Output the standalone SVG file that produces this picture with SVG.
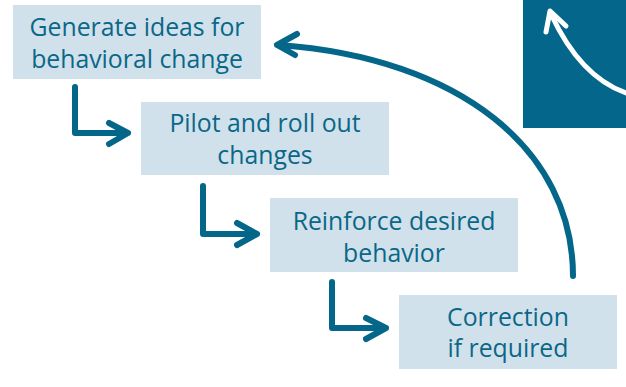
<svg xmlns="http://www.w3.org/2000/svg" width="626" height="387" viewBox="0 0 626 387">
  <style>
    .box { fill: #d1e1eb; }
    .label { font-family: "Open Sans", "Noto Sans", sans-serif; font-size: 24.8px; fill: #0a6788; text-anchor: middle; }
    .conn { fill: none; stroke: #04678a; stroke-width: 6; stroke-linecap: round; stroke-linejoin: round; }
  </style>
  <rect width="626" height="387" fill="#ffffff"/>

  <!-- corner badge -->
  <g id="badge">
    <rect x="523" y="0" width="103" height="128" fill="#03668a"/>
    <path d="M626,93 C595,82 570,55 551,14" fill="none" stroke="#ffffff" stroke-width="5" stroke-linecap="round"/>
    <path d="M546,32 L550,11 L566,26" fill="none" stroke="#ffffff" stroke-width="5" stroke-linecap="round" stroke-linejoin="round"/>
  </g>

  <g id="step1">
    <rect class="box" x="13" y="5" width="248" height="74"/>
    <text class="label" x="137" y="36">Generate ideas for</text>
    <text class="label" x="137" y="68">behavioral change</text>
  </g>
  <g id="step2">
    <rect class="box" x="141" y="102" width="248" height="73"/>
    <text class="label" x="265" y="132">Pilot and roll out</text>
    <text class="label" x="265" y="164">changes</text>
  </g>
  <g id="step3">
    <rect class="box" x="270" y="198" width="248" height="74"/>
    <text class="label" x="394" y="230">Reinforce desired</text>
    <text class="label" x="394" y="262">behavior</text>
  </g>
  <g id="step4">
    <rect class="box" x="399" y="295" width="218" height="74"/>
    <text class="label" x="508" y="326">Correction</text>
    <text class="label" x="508" y="357">if required</text>
  </g>

  <g id="connectors">
    <path class="conn" d="M75,87 V133 H128 M109,123 L128,133 L109,144"/>
    <path class="conn" d="M203,186 V234 H257 M237,223 L257,234 L237,245"/>
    <path class="conn" d="M332,282 V328 H386 M366,318 L386,328 L366,339"/>
    <path class="conn" d="M573,276 C573,150 460,58 279,45"/>
    <path class="conn" d="M297,34 L277,45 L295,55"/>
  </g>
</svg>
